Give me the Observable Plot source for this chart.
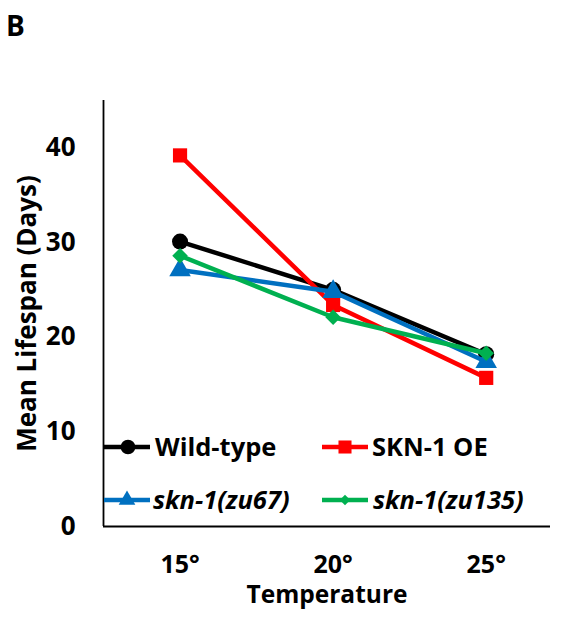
<!DOCTYPE html>
<html><head><meta charset="utf-8">
<script src="https://cdn.jsdelivr.net/npm/d3@7"></script>
<script src="https://cdn.jsdelivr.net/npm/@observablehq/plot@0.6"></script>
<style>body{margin:0;background:#fff} #chart{width:563px;height:625px}</style>
</head><body><div id="chart"></div>
<script>
const panelLabel = "B";
const xTitle = "Temperature";
const yTitle = "Mean Lifespan (Days)";
const temperatures = [15, 20, 25];
const yTicks = [0, 10, 20, 30, 40];
const seriesNames = ["Wild-type", "SKN-1 OE", "skn-1(zu67)", "skn-1(zu135)"];
const seriesItalic = [false, false, true, true];
const wildType = [30.1, 25.0, 18.2];
const skn1OE = [39.2, 23.4, 15.7];
const zu67 = [27.1, 24.8, 17.4];
const zu135 = [28.6, 22.1, 18.3];
const seriesValues = [wildType, skn1OE, zu67, zu135];
const seriesColors = ["#000000", "#ff0000", "#0070c0", "#00b050"];
const seriesSymbols = ["circle", "square", "triangle", "diamond2"];

const FONT = "'Open Sans', 'DejaVu Sans', sans-serif";
const xDomain = [12.5, 27.1];
const yDomain = [0, 45];

const rows = seriesNames.flatMap((s, i) =>
  temperatures.map((t, j) => ({series: s, temp: t, value: seriesValues[i][j]})));

const seriesMarks = seriesNames.flatMap((s, i) => {
  const d = rows.filter(r => r.series === s);
  return [
    Plot.line(d, {x: "temp", y: "value", stroke: seriesColors[i], strokeWidth: 4.5}),
    Plot.dot(d, {x: "temp", y: "value", symbol: () => seriesSymbols[i], fill: seriesColors[i],
      r: i === 3 ? 7 : 8, stroke: "none"})
  ];
});

const chart = Plot.plot({
  width: 563, height: 625,
  marginLeft: 103, marginRight: 13, marginTop: 100, marginBottom: 99,
  style: {fontFamily: FONT, fontWeight: "bold", background: "#fff", color: "#000"},
  x: {type: "linear", domain: xDomain},
  y: {domain: yDomain},
  marks: [
    Plot.axisY({ticks: yTicks, tickSize: 0, tickPadding: 28, fontSize: 26, label: null, fontWeight: "bold"}),
    Plot.axisX({ticks: temperatures, tickFormat: d => d + "°", tickSize: 0, tickPadding: 29, fontSize: 25, label: null, fontWeight: "bold"}),
    Plot.ruleY([yDomain[0]], {stroke: "#000", strokeWidth: 1.8}),
    Plot.ruleX([xDomain[0]], {stroke: "#000", strokeWidth: 1.8}),
    ...seriesMarks,
    Plot.text([xTitle], {frameAnchor: "bottom", dy: 69, fontSize: 24.5, fontWeight: "bold", textAnchor: "middle", lineAnchor: "middle", fill: "#000"}),
    Plot.text([yTitle], {frameAnchor: "left", dx: -76, rotate: -90, fontSize: 26, fontWeight: "bold", textAnchor: "middle", lineAnchor: "middle", fill: "#000"}),
    Plot.text([panelLabel], {frameAnchor: "top-left", dx: -88, dy: -73, fontSize: 28, fontWeight: "bold", textAnchor: "middle", lineAnchor: "middle", fill: "#000"})
  ]
});
document.getElementById("chart").appendChild(chart);

// legend (inside plot area)
const svg = d3.select(chart);
const legendPos = [
  {x0: 104, x1: 150, mx: 128, tx: 155, y: 447},
  {x0: 322, x1: 368, mx: 345, tx: 372, y: 447},
  {x0: 104, x1: 150, mx: 127, tx: 153, y: 500},
  {x0: 322, x1: 368, mx: 345, tx: 373, y: 500}
];
const symMap = {circle: d3.symbolCircle, square: d3.symbolSquare, triangle: d3.symbolTriangle, diamond2: d3.symbolDiamond2};
const legendSizes = [170, 170, 120, 70];
const lg = svg.append("g");
seriesNames.forEach((s, i) => {
  const p = legendPos[i];
  lg.append("line").attr("x1", p.x0).attr("x2", p.x1).attr("y1", p.y).attr("y2", p.y)
    .attr("stroke", seriesColors[i]).attr("stroke-width", 4.5);
  lg.append("path").attr("d", d3.symbol(symMap[seriesSymbols[i]], legendSizes[i])())
    .attr("transform", `translate(${p.mx},${p.y})`).attr("fill", seriesColors[i]);
  lg.append("text").attr("x", p.tx).attr("y", p.y).attr("dy", "0.35em")
    .attr("text-anchor", "start")
    .attr("font-family", FONT).attr("font-size", 25.5).attr("font-weight", "bold")
    .attr("font-style", seriesItalic[i] ? "italic" : "normal")
    .attr("fill", "#000").text(s);
});
</script>
</body></html>
